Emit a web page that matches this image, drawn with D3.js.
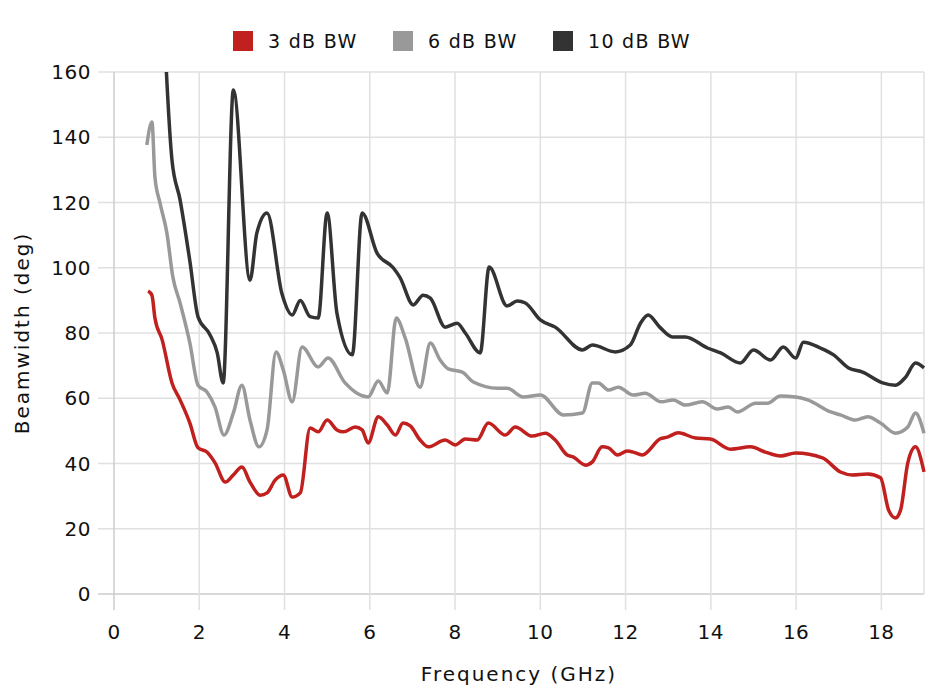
<!DOCTYPE html>
<html>
<head>
<meta charset="utf-8">
<script src="https://cdn.jsdelivr.net/npm/d3@7"></script>
<style>
  body { margin: 0; background: #fff; }
  text { font-family: "DejaVu Sans", sans-serif; fill: #111; }
</style>
</head>
<body>
<div id="chart"></div>
<script>
// Series names and colours
var seriesNames = ['3 dB BW', '6 dB BW', '10 dB BW'];
var seriesColors = ['#c0201e', '#999999', '#333333'];

// Tick labels
var xTicks = [0, 2, 4, 6, 8, 10, 12, 14, 16, 18];
var yTicks = [0, 20, 40, 60, 80, 100, 120, 140, 160];

// [frequency GHz, beamwidth deg]
var bw3 = [
  [0.8, 92.9], [0.89, 91.6], [0.96, 84.6], [1.13, 77.9], [1.36, 64.7], [1.55, 59.5],
  [1.78, 52.4], [1.97, 44.8], [2.18, 43.5], [2.37, 40.2], [2.61, 34.3], [2.8, 36.5],
  [3.0, 38.9], [3.19, 34.3], [3.43, 30.3], [3.59, 31], [3.78, 34.9], [3.97, 36.5],
  [4.18, 29.7], [4.37, 31], [4.6, 50.9], [4.79, 49.7], [5.0, 53.3], [5.23, 50.3],
  [5.38, 49.7], [5.66, 51.2], [5.82, 50.3], [5.96, 46.3], [6.2, 54.3], [6.41, 51.8],
  [6.6, 48.7], [6.78, 52.4], [6.95, 51.5], [7.18, 47.2], [7.37, 45.1], [7.77, 47.2],
  [8.0, 45.7], [8.24, 47.5], [8.52, 47.2], [8.78, 52.4], [9.18, 48.7], [9.41, 51.2],
  [9.81, 48.4], [10.12, 49.3], [10.35, 47.2], [10.63, 42.6], [10.77, 42], [11.06, 39.5],
  [11.22, 40.5], [11.45, 45.1], [11.6, 44.8], [11.81, 42.6], [12.04, 43.8], [12.18, 43.5],
  [12.39, 42.6], [12.82, 47.6], [12.98, 48.1], [13.24, 49.4], [13.64, 47.8], [13.99, 47.5],
  [14.46, 44.4], [14.93, 45.1], [15.28, 43.5], [15.63, 42.3], [15.99, 43.2], [16.62, 41.7],
  [17.04, 37.4], [17.32, 36.5], [17.68, 36.8], [17.98, 35.6], [18.17, 25.7], [18.33, 23.3],
  [18.45, 25.7], [18.62, 40.2], [18.8, 45.1], [19.0, 37.4]
];

var bw6 = [
  [0.77, 137.6], [0.89, 144.7], [0.96, 127.8], [1.08, 119.8], [1.24, 110.7], [1.38, 97.2],
  [1.55, 89.2], [1.78, 76.9], [1.97, 64], [2.18, 61.9], [2.37, 57.3], [2.58, 48.7],
  [2.8, 55.5], [3.0, 64], [3.19, 53.3], [3.4, 45.1], [3.59, 50.3], [3.8, 74.2],
  [3.97, 68.7], [4.18, 58.9], [4.41, 75.7], [4.79, 69.6], [5.02, 72.3], [5.42, 64.7],
  [5.96, 60.4], [6.2, 65.3], [6.41, 61.6], [6.62, 84.6], [6.83, 78.5], [7.18, 63.4],
  [7.42, 76.9], [7.65, 71.7], [7.84, 69], [8.17, 68], [8.43, 65], [9.0, 63.1],
  [9.22, 63.1], [9.6, 60.4], [10.0, 61], [10.54, 54.9], [10.99, 55.5], [11.22, 64.7],
  [11.36, 64.7], [11.6, 62.5], [11.83, 63.4], [12.18, 61], [12.46, 61.5], [12.84, 58.9],
  [13.12, 59.5], [13.4, 57.9], [13.8, 58.9], [14.15, 56.7], [14.41, 57.3], [14.62, 55.8],
  [15.05, 58.5], [15.33, 58.5], [15.63, 60.7], [15.99, 60.4], [16.27, 59.5], [16.81, 55.8],
  [17.04, 54.9], [17.39, 53.3], [17.68, 54.3], [17.98, 52.4], [18.33, 49.3], [18.62, 51.2],
  [18.8, 55.5], [19.0, 49.3]
];

var bw10 = [
  [1.12, 190], [1.36, 133], [1.55, 120.8], [1.78, 102], [1.97, 85], [2.25, 79.5],
  [2.42, 74], [2.56, 64.7], [2.8, 154.5], [3.19, 96.2], [3.35, 110.6], [3.59, 116.8],
  [3.94, 92], [4.18, 85.5], [4.37, 90], [4.6, 85], [4.79, 84.6], [5.0, 116.8],
  [5.23, 86], [5.59, 73.3], [5.82, 116.8], [6.17, 104.5], [6.55, 100], [6.71, 97],
  [7.02, 88.6], [7.25, 91.6], [7.42, 90.7], [7.77, 81.8], [8.05, 83], [8.24, 80],
  [8.59, 73.9], [8.8, 100.2], [9.22, 88.3], [9.46, 89.8], [9.65, 89.2], [10.0, 84],
  [10.35, 81.8], [10.99, 74.8], [11.22, 76.3], [11.76, 74.2], [12.11, 76.3], [12.35, 83],
  [12.53, 85.5], [12.8, 81.8], [13.1, 78.8], [13.4, 78.8], [13.92, 75.4], [14.23, 73.9],
  [14.69, 70.8], [15.0, 74.8], [15.4, 71.7], [15.7, 75.7], [15.99, 72.3], [16.17, 77.2],
  [16.57, 75.4], [16.88, 73.3], [17.23, 69.3], [17.56, 68], [18.03, 64.7], [18.33, 64],
  [18.57, 66.5], [18.8, 70.8], [19.0, 69.3]
];

var seriesData = [bw3, bw6, bw10];

var width = 930, height = 696;
var margin = { top: 72, right: 6, bottom: 102, left: 114 };

var svg = d3.select("#chart")
  .append("svg")
  .attr("width", width)
  .attr("height", height);

var x = d3.scaleLinear().domain([0, 19]).range([margin.left, width - margin.right]);
var y = d3.scaleLinear().domain([0, 160]).range([height - margin.bottom, margin.top]);

// grid: horizontal lines stick out left, vertical lines stick out below
svg.append("g")
  .selectAll("line")
  .data(yTicks)
  .enter()
  .append("line")
  .attr("x1", margin.left - 16)
  .attr("x2", x(19))
  .attr("y1", function(d) { return y(d); })
  .attr("y2", function(d) { return y(d); })
  .style("stroke", function(d) { return d === 0 ? "#cccccc" : "#e0e0e0"; })
  .style("stroke-width", 1.5);

svg.append("g")
  .selectAll("line")
  .data(xTicks.concat([19]))
  .enter()
  .append("line")
  .attr("x1", function(d) { return x(d); })
  .attr("x2", function(d) { return x(d); })
  .attr("y1", y(160))
  .attr("y2", function(d) { return d === 19 ? y(0) : y(0) + 16; })
  .style("stroke", function(d) { return d === 0 ? "#cccccc" : "#e0e0e0"; })
  .style("stroke-width", 1.5);

// tick labels
svg.append("g")
  .selectAll("text")
  .data(yTicks)
  .enter()
  .append("text")
  .attr("x", margin.left - 23)
  .attr("y", function(d) { return y(d); })
  .attr("dy", "0.36em")
  .style("text-anchor", "end")
  .style("font-size", "20px")
  .style("letter-spacing", "0.5px")
  .text(function(d) { return d; });

svg.append("g")
  .selectAll("text")
  .data(xTicks)
  .enter()
  .append("text")
  .attr("x", function(d) { return x(d); })
  .attr("y", y(0) + 45)
  .style("text-anchor", "middle")
  .style("font-size", "20px")
  .style("letter-spacing", "0.5px")
  .text(function(d) { return d; });

// axis titles
svg.append("text")
  .attr("x", (margin.left + x(19)) / 2)
  .attr("y", 681)
  .style("text-anchor", "middle")
  .style("font-size", "20px")
  .style("letter-spacing", "2px")
  .text("Frequency (GHz)");

svg.append("text")
  .attr("transform", "translate(29," + ((y(0) + y(160)) / 2) + ") rotate(-90)")
  .style("text-anchor", "middle")
  .style("font-size", "20px")
  .style("letter-spacing", "2px")
  .text("Beamwidth (deg)");

// clip lines to the plot area
svg.append("clipPath")
  .attr("id", "plot-clip")
  .append("rect")
  .attr("x", margin.left)
  .attr("y", y(160))
  .attr("width", x(19) - margin.left + 2)
  .attr("height", y(0) - y(160));

var line = d3.line()
  .x(function(d) { return x(d[0]); })
  .y(function(d) { return y(d[1]); })
  .curve(d3.curveMonotoneX);

svg.append("g")
  .attr("clip-path", "url(#plot-clip)")
  .selectAll("path")
  .data(seriesData)
  .enter()
  .append("path")
  .attr("d", line)
  .style("fill", "none")
  .style("stroke", function(d, i) { return seriesColors[i]; })
  .style("stroke-width", 3.5)
  .style("stroke-linejoin", "round");

// legend
var legendX = [233, 393, 553];
var legend = svg.append("g")
  .selectAll("g")
  .data(seriesNames)
  .enter()
  .append("g")
  .attr("transform", function(d, i) { return "translate(" + legendX[i] + ",31)"; });

legend.append("rect")
  .attr("width", 20)
  .attr("height", 20)
  .style("fill", function(d, i) { return seriesColors[i]; });

legend.append("text")
  .attr("x", 35)
  .attr("y", 10)
  .attr("dy", "0.36em")
  .style("font-size", "19px")
  .style("letter-spacing", "1.3px")
  .text(function(d) { return d; });
</script>
</body>
</html>
